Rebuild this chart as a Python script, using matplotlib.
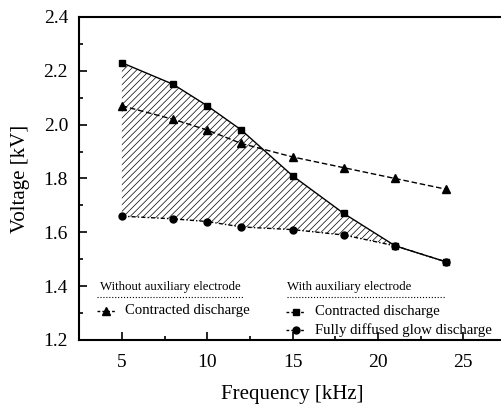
import numpy as np
import matplotlib.pyplot as plt
from matplotlib.lines import Line2D

plt.rcParams['font.family'] = ['Liberation Serif', 'DejaVu Serif']

# data
freq = [5, 8, 10, 12, 15, 18, 21, 24]
v_without_contracted = [2.07, 2.02, 1.98, 1.93, 1.88, 1.84, 1.80, 1.76]
v_with_contracted = [2.23, 2.15, 2.07, 1.98, 1.81, 1.67, 1.55, 1.49]
v_with_diffused = [1.66, 1.65, 1.64, 1.62, 1.61, 1.59, 1.55, 1.49]

x_ticks = [5, 10, 15, 20, 25]
y_ticks = [1.2, 1.4, 1.6, 1.8, 2.0, 2.2, 2.4]

fig = plt.figure(figsize=(5.01, 4.08), dpi=100)
ax = fig.add_axes([0.158, 0.1667, 0.852, 0.7917])

# hatched region between the two "with electrode" curves
plt.rcParams['hatch.linewidth'] = 0.5
ax.fill_between(freq, v_with_diffused, v_with_contracted, facecolor='none',
                edgecolor='black', hatch='/////', linewidth=0)

ax.plot(freq, v_without_contracted, color='black', lw=1.0, dashes=(4, 2),
        marker='^', ms=6)
ax.plot(freq, v_with_contracted, color='black', lw=1.0, marker='s', ms=5)
ax.plot(freq, v_with_diffused, color='black', lw=1.0, dashes=(3, 1.5, 1, 1.5),
        marker='o', ms=5)

ax.set_xlim(2.5, 27.5)
ax.set_ylim(1.2, 2.4)
ax.set_xticks(x_ticks)
ax.set_yticks(y_ticks)
ax.set_yticklabels(['%.1f' % v for v in y_ticks])
ax.set_xticks(np.arange(2.5, 27.6, 2.5), minor=True)
ax.set_yticks(np.arange(1.2, 2.41, 0.1), minor=True)
ax.tick_params(which='both', direction='in', labelsize=14, width=1.2)
ax.tick_params(which='major', length=6)
ax.tick_params(which='minor', length=3)
ax.tick_params(axis='x', pad=10)
ax.tick_params(axis='y', pad=8)
ax.spines['right'].set_visible(False)
for s in ['left', 'bottom', 'top']:
    ax.spines[s].set_linewidth(1.5)

ax.set_xlabel('Frequency [kHz]', fontsize=15, labelpad=10)
ax.set_ylabel('Voltage [kV]', fontsize=15, labelpad=10)

# hand-made legend
fs_t = 9.3
fs = 10.6
ax.text(0.049, 0.147, 'Without auxiliary electrode', transform=ax.transAxes,
        fontsize=fs_t, va='bottom')
ax.add_line(Line2D([0.042, 0.384], [0.133, 0.133], transform=ax.transAxes,
                   color='black', lw=0.8, ls=':'))
ax.add_line(Line2D([0.042, 0.085], [0.09, 0.09], transform=ax.transAxes,
                   color='black', lw=1.0, dashes=(2, 1.5)))
ax.add_line(Line2D([0.0635], [0.09], transform=ax.transAxes, color='black',
                   marker='^', ms=6))
ax.text(0.108, 0.09, 'Contracted discharge', transform=ax.transAxes,
        fontsize=fs, va='center')

ax.text(0.487, 0.147, 'With auxiliary electrode', transform=ax.transAxes,
        fontsize=fs_t, va='bottom')
ax.add_line(Line2D([0.487, 0.858], [0.133, 0.133], transform=ax.transAxes,
                   color='black', lw=0.8, ls=':'))
ax.add_line(Line2D([0.485, 0.53], [0.087, 0.087], transform=ax.transAxes,
                   color='black', lw=1.0, dashes=(2, 1.5)))
ax.add_line(Line2D([0.5075], [0.087], transform=ax.transAxes, color='black',
                   marker='s', ms=5))
ax.text(0.553, 0.087, 'Contracted discharge', transform=ax.transAxes,
        fontsize=fs, va='center')
ax.add_line(Line2D([0.485, 0.53], [0.031, 0.031], transform=ax.transAxes,
                   color='black', lw=1.0, dashes=(2, 1.5)))
ax.add_line(Line2D([0.5075], [0.031], transform=ax.transAxes, color='black',
                   marker='o', ms=5))
ax.text(0.553, 0.031, 'Fully diffused glow discharge', transform=ax.transAxes,
        fontsize=fs, va='center')

fig.savefig('out.png', dpi=100)
